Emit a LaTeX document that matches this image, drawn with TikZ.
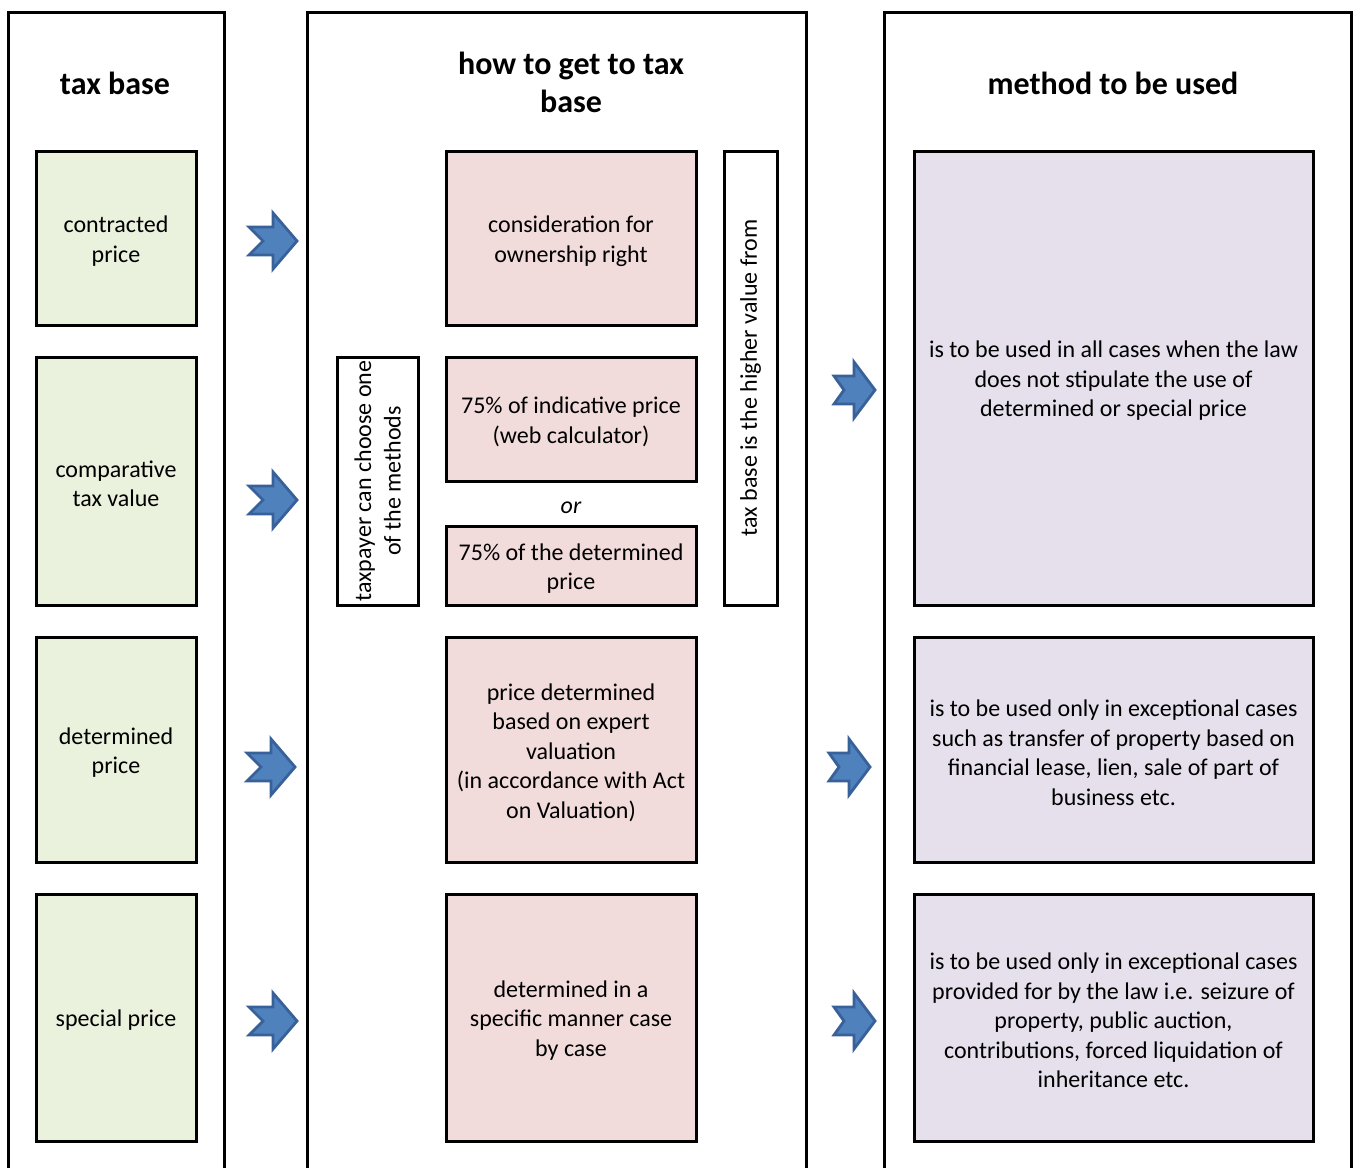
\documentclass[tikz,border=0pt]{standalone}
\usepackage{fontspec}
\setmainfont{Carlito}
\definecolor{gfill}{HTML}{EAF1DD}
\definecolor{pfill}{HTML}{F2DCDB}
\definecolor{ufill}{HTML}{E5E0EC}
\definecolor{afill}{HTML}{4F81BD}
\definecolor{aline}{HTML}{38619A}
\begin{document}
\begin{tikzpicture}[x=1pt,y=-1pt,
  every node/.style={font=\fontsize{24}{29.5}\selectfont, align=center, inner sep=0pt},
  colframe/.style={line width=3pt, line cap=rect},
  title/.style={font=\fontsize{32}{38}\selectfont\bfseries},
  boxbase/.style={draw, line width=3pt, rectangle},
  btext/.style={yshift=-3pt},
  gbox/.style={boxbase, fill=gfill, minimum width=160pt},
  pbox/.style={boxbase, fill=pfill, minimum width=250pt},
  ubox/.style={boxbase, fill=ufill, minimum width=399pt},
  vbox/.style={boxbase, fill=white, rotate=90},
  barrow/.pic={\path[fill=afill, draw=aline, line width=2.8pt, line join=miter]
     (0,-14) -- (24,-14) -- (24,-28) -- (48,0) -- (24,28) -- (24,14) -- (0,14) -- (14,0) -- cycle;},
  sarrow/.pic={\path[fill=afill, draw=aline, line width=2.8pt, line join=miter]
     (0,-14) -- (20,-14) -- (20,-28) -- (41,0) -- (20,28) -- (20,14) -- (0,14) -- (10,0) -- cycle;}
]
\useasboundingbox (0,0) rectangle (1356,1167);
\fill[white] (0,0) rectangle (1356,1167);
% column frames
\draw[colframe] (8,1170) -- (8,12) -- (224,12) -- (224,1170);
\draw[colframe] (307,1170) -- (307,12) -- (806,12) -- (806,1170);
\draw[colframe] (884,1170) -- (884,12) -- (1351,12) -- (1351,1170);
% titles
\node[title] (t1) at (115,83) {tax base};
\node[title] (t2) at (571,82) {how to get to tax\\base};
\node[title] (t3) at (1113,83) {method to be used};
% green boxes
\node[gbox, minimum height=174pt, label={[btext]center:{contracted\\price}}] (g1) at (116,238) {};
\node[gbox, minimum height=248pt, label={[btext]center:{comparative\\tax value}}] (g2) at (116,481) {};
\node[gbox, minimum height=225pt, label={[btext]center:{determined\\price}}] (g3) at (116,749.5) {};
\node[gbox, minimum height=247pt, label={[btext]center:{special price}}] (g4) at (116,1017.5) {};
% pink boxes
\node[pbox, minimum height=174pt, label={[btext]center:{consideration for\\ownership right}}] (p1) at (571,238) {};
\node[pbox, minimum height=124pt, label={[btext]center:{75\% of indicative price\\(web calculator)}}] (p2) at (571,419) {};
\node[btext] (or) at (571,505) {\itshape or};
\node[pbox, minimum height=79pt, label={[btext]center:{75\% of the determined\\price}}] (p3) at (571,565.5) {};
\node[pbox, minimum height=225pt, label={[btext]center:{price determined\\based on expert\\valuation\\(in accordance with Act\\on Valuation)}}] (p4) at (571,749.5) {};
\node[pbox, minimum height=247pt, label={[btext]center:{determined in a\\specific manner case\\by case}}] (p5) at (571,1017.5) {};
% vertical boxes
\node[vbox, minimum width=248pt, minimum height=81pt] (v1) at (377.5,481) {taxpayer can choose one\\of the methods};
\node[vbox, minimum width=454pt, minimum height=53pt] (v2) at (750.5,378) {tax base is the higher value from};
% purple boxes
\node[ubox, minimum height=454pt, label={[btext]center:{is to be used in all cases when the law\\does not stipulate the use of\\determined or special price}}] (u1) at (1113.5,378) {};
\node[ubox, minimum height=225pt, label={[btext]center:{is to be used only in exceptional cases\\such as transfer of property based on\\financial lease, lien, sale of part of\\business etc.}}] (u2) at (1113.5,749.5) {};
\node[ubox, minimum height=247pt, label={[btext]center:{is to be used only in exceptional cases\\provided for by the law i.e. seizure of\\property, public auction,\\contributions, forced liquidation of\\inheritance etc.}}] (u3) at (1113.5,1017.5) {};
% arrows
\pic at (249,241) {barrow};
\pic at (249,500) {barrow};
\pic at (247,767) {barrow};
\pic at (249,1021) {barrow};
\pic at (834,390) {sarrow};
\pic at (829,767) {sarrow};
\pic at (834,1021) {sarrow};
\end{tikzpicture}
\end{document}
